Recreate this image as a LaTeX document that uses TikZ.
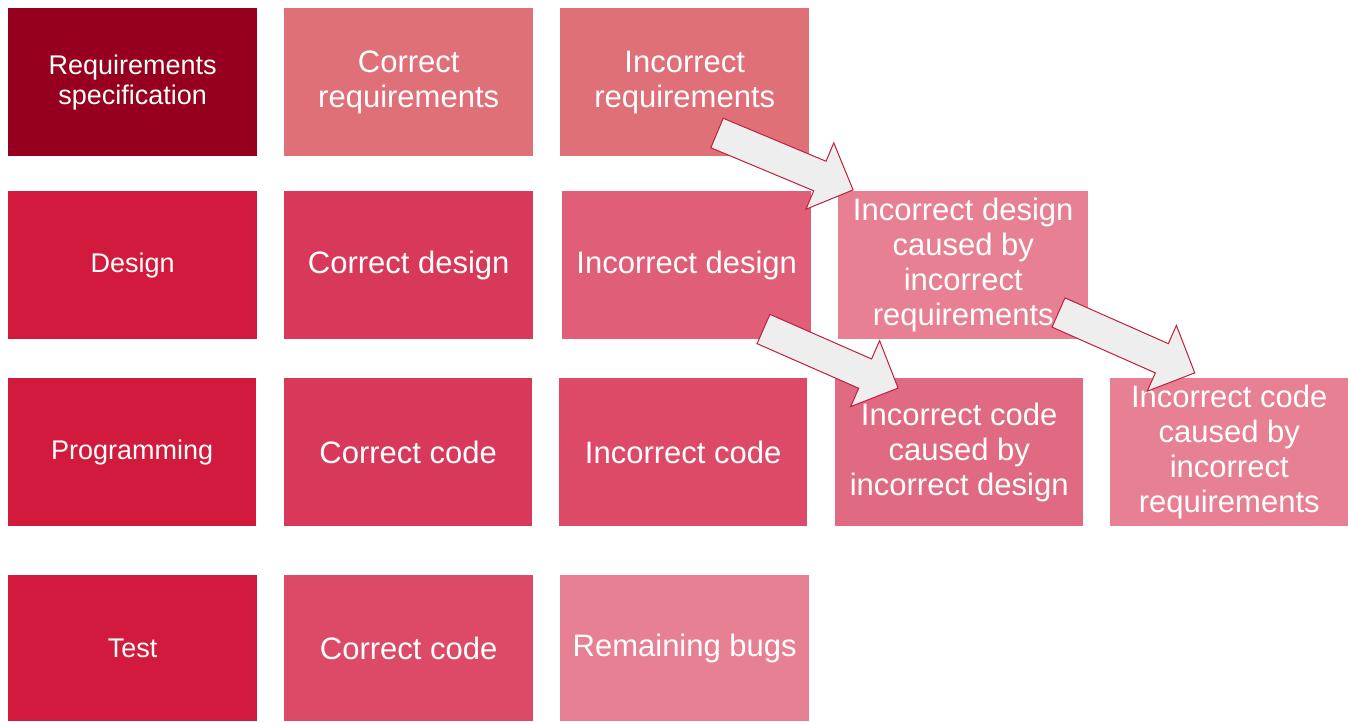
\documentclass[tikz,border=0pt]{standalone}
\usepackage{fontspec}
\setmainfont{Liberation Sans}
\definecolor{cReq}{HTML}{96001E}
\definecolor{cPhase}{HTML}{D21A3C}
\definecolor{cSalmon}{HTML}{E07078}
\definecolor{cCorrect}{HTML}{D8385A}
\definecolor{cIncA}{HTML}{E05E78}
\definecolor{cIncB}{HTML}{DC4A68}
\definecolor{cLight}{HTML}{E88094}
\definecolor{cMid}{HTML}{E06A82}
\definecolor{cArrFill}{HTML}{EEEEEE}
\definecolor{cArrLine}{HTML}{C0203C}
\tikzset{
  box/.style={anchor=north west, inner sep=0pt, align=center, text=white,
    minimum height=148pt, font=\fontsize{31}{35}\selectfont},
  phasebox/.style={box, font=\fontsize{27}{30}\selectfont},
  blockarr/.style={fill=cArrFill, draw=cArrLine, line width=1pt, line join=miter},
}
\newcommand\blockarrow[4]{%
  \draw[blockarr, shift={(#1,#2)}, rotate=#3]
    (0,16) -- (#4-36,16) -- (#4-36,36) -- (#4,0) -- (#4-36,-36) -- (#4-36,-16) -- (0,-16) -- cycle;}
\begin{document}
\begin{tikzpicture}[x=1pt,y=-1pt]
\useasboundingbox[fill=white] (0,0) rectangle (1348,721);
% row 1
\node[phasebox, fill=cReq, minimum width=249pt] (req) at (8,8) {Requirements\\specification};
\node[box, fill=cSalmon, minimum width=249pt] (creq) at (284,8) {Correct\\requirements};
\node[box, fill=cSalmon, minimum width=249pt] (ireq) at (560,8) {Incorrect\\requirements};
% row 2
\node[phasebox, fill=cPhase, minimum width=249pt] (des) at (8,191) {Design};
\node[box, fill=cCorrect, minimum width=249pt] (cdes) at (284,191) {Correct design};
\node[box, fill=cIncA, minimum width=249pt] (ides) at (562,191) {Incorrect design};
\node[box, fill=cLight, minimum width=250pt] (idesreq) at (838,191) {Incorrect design\\caused by\\incorrect\\requirements};
% row 3
\node[phasebox, fill=cPhase, minimum width=248pt] (prog) at (8,378) {Programming};
\node[box, fill=cCorrect, minimum width=248pt] (ccode) at (284,378) {Correct code};
\node[box, fill=cIncB, minimum width=248pt] (icode) at (559,378) {Incorrect code};
\node[box, fill=cMid, minimum width=248pt] (icodedes) at (835,378) {Incorrect code\\caused by\\incorrect design};
\node[box, fill=cLight, minimum width=238pt] (icodereq) at (1110,378) {Incorrect code\\caused by\\incorrect\\requirements};
% row 4
\node[phasebox, fill=cPhase, minimum width=249pt, minimum height=146pt] (test) at (8,575) {Test};
\node[box, fill=cIncB, minimum width=249pt, minimum height=146pt] (tcode) at (284,575) {Correct code};
\node[box, fill=cLight, minimum width=249pt, minimum height=146pt] (bugs) at (560,575) {Remaining bugs};
% block arrows
\blockarrow{717}{133}{-22.7}{147.5}
\blockarrow{763.5}{329}{-23.7}{147}
\blockarrow{1058.5}{312.5}{-23.9}{149}
\end{tikzpicture}
\end{document}
